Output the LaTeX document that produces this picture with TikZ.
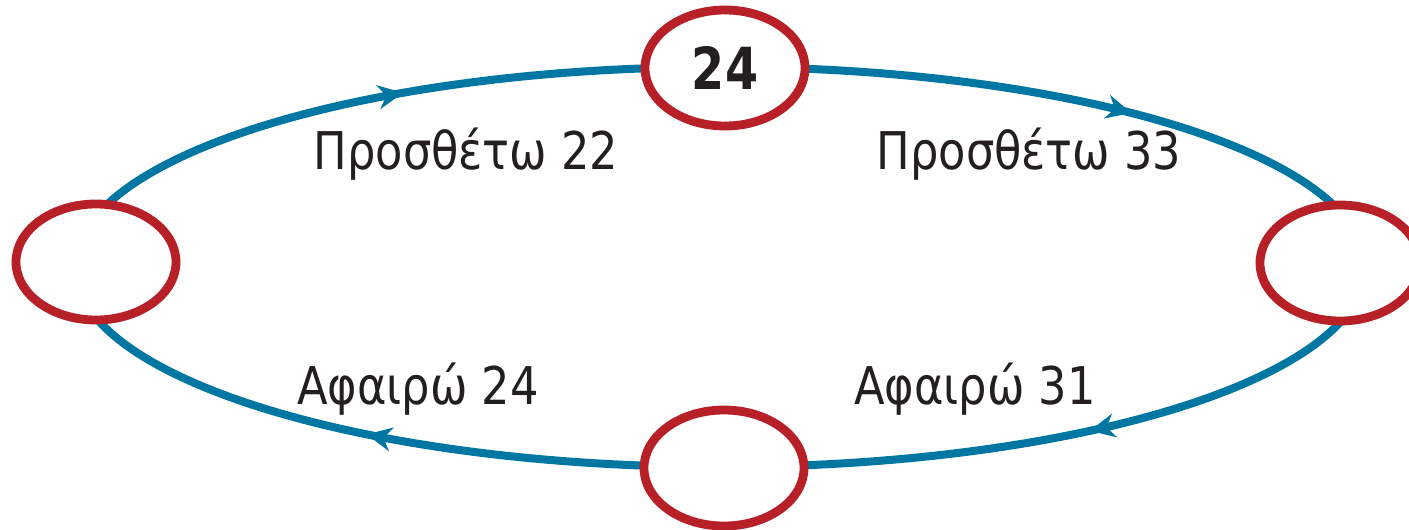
\documentclass[tikz,border=0pt]{standalone}
\usepackage{fontspec}
\setmainfont{DejaVu Sans}
\usetikzlibrary{arrows.meta,decorations.markings,shapes.geometric}
\definecolor{flowblue}{RGB}{0,118,163}
\definecolor{ringred}{RGB}{183,32,38}
\definecolor{inkblack}{RGB}{35,31,32}
\tikzset{flowtip/.tip={Stealth[length=12.5pt,width=12pt,inset=4pt]}}
\begin{document}
\begin{tikzpicture}[x=0.5pt,y=-0.5pt,
  ring/.style={ellipse, draw=ringred, line width=4.4pt, fill=white,
    minimum width=80pt, minimum height=58pt, inner sep=0pt},
  lbl/.style={anchor=base, text=inkblack, inner sep=0pt,
    font=\fontsize{26}{28}\selectfont},
  flow/.style={draw=flowblue, color=flowblue, line width=4pt,
    postaction={decorate},
    decoration={markings,
      mark=at position 0.119 with {\arrow{flowtip}},
      mark=at position 0.375 with {\arrow{flowtip}},
      mark=at position 0.638 with {\arrow{flowtip}},
      mark=at position 0.896 with {\arrow{flowtip}}}}
]
\useasboundingbox[fill=white] (0,0) rectangle (1409,530);
\coordinate (hub) at (720,267);
\draw[flow] (hub) ellipse [x radius=645, y radius=200];
\node[ring] (top) at (725,68) {\fontsize{29}{30}\selectfont\bfseries\color{inkblack}\scalebox{0.82}[1]{24}};
\node[ring] (right) at (1340,263) {};
\node[ring] (bottom) at (724,468) {};
\node[ring] (left) at (96,262) {};
\node[lbl] (addtwo) at (466,169) {\scalebox{0.86}[1]{Προσθέτω 22}};
\node[lbl] (addthree) at (1029,169) {\scalebox{0.86}[1]{Προσθέτω 33}};
\node[lbl] (subone) at (975,404) {\scalebox{0.86}[1]{Αφαιρώ 31}};
\node[lbl] (subtwo) at (418,404) {\scalebox{0.86}[1]{Αφαιρώ 24}};
\end{tikzpicture}
\end{document}
